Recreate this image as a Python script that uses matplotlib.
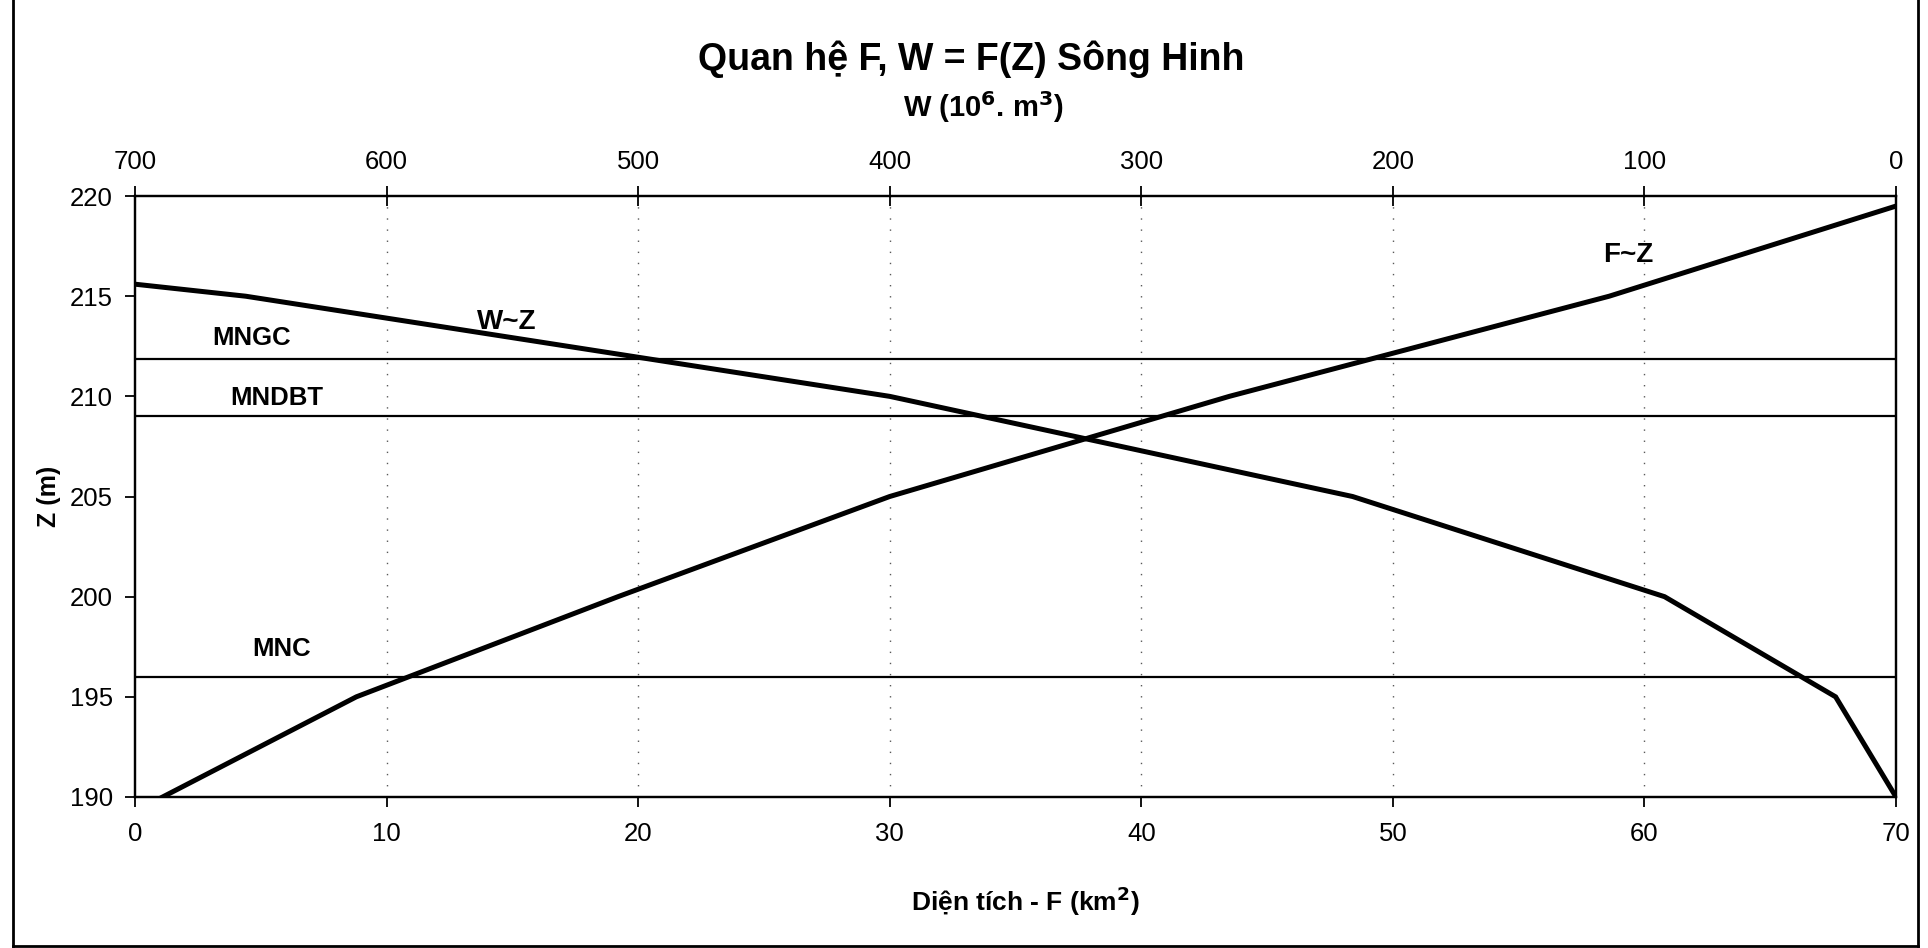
import matplotlib
matplotlib.use("Agg")
import matplotlib.pyplot as plt
from matplotlib.lines import Line2D

plt.rcParams["font.family"] = ["Liberation Sans", "DejaVu Sans"]
plt.rcParams["mathtext.default"] = "bf"

# F~Z : area (km2) vs water level (m)
f_area = [1.1, 8.8, 19.2, 30.0, 43.5, 58.6, 70.0]
z_f = [190, 195, 200, 205, 210, 215, 219.5]

# W~Z : volume (10^6 m3) vs water level (m)
w_vol = [0, 24, 92, 216, 400, 656, 700]
z_w = [190, 195, 200, 205, 210, 215, 215.6]

# characteristic levels
levels = {"MNGC": 211.85, "MNDBT": 209.0, "MNC": 196.0}
level_label_pos = {"MNGC": (4.64, 212.9), "MNDBT": (5.64, 209.9), "MNC": (5.83, 197.4)}

f_ticks = [0, 10, 20, 30, 40, 50, 60, 70]
w_ticks = [700, 600, 500, 400, 300, 200, 100, 0]
z_ticks = [190, 195, 200, 205, 210, 215, 220]

fig = plt.figure(figsize=(19.28, 9.48), dpi=100)
ax = fig.add_axes([0.0700, 0.1593, 0.9134, 0.6339])

# dotted vertical gridlines
for f in f_ticks[1:-1]:
    ax.axvline(f, color="0.35", lw=1.0, ls=(0, (1, 7)), zorder=1)

for name, z in levels.items():
    ax.axhline(z, color="black", lw=1.6, zorder=2)
    lx, ly = level_label_pos[name]
    ax.text(lx, ly, name, fontsize=18.5, fontweight="bold", ha="center", va="center")

ax.plot(f_area, z_f, color="black", lw=3.6, solid_joinstyle="miter", zorder=3)
ax.text(59.35, 217.05, "F~Z", fontsize=20, fontweight="bold", ha="center", va="center")
ax.text(14.78, 213.72, "W~Z", fontsize=20, fontweight="bold", ha="center", va="center")

ax.set_xlim(0, 70)
ax.set_ylim(190, 220)
ax.set_xticks(f_ticks)
ax.set_yticks(z_ticks)
ax.tick_params(axis="x", direction="out", length=7, width=1.3, labelsize=18.5, pad=11)
ax.tick_params(axis="y", direction="out", length=7, width=1.3, labelsize=18.5, pad=9)
ax.set_xlabel("Diện tích - F (km$^2$)", fontsize=19, fontweight="bold")
ax.xaxis.set_label_coords(0.5054, -0.145)
ax.set_ylabel("Z (m)", fontsize=18, fontweight="bold", labelpad=6)
for s in ax.spines.values():
    s.set_linewidth(1.6)

# top axis for volume, reversed
ax2 = ax.twiny()
ax2.set_xlim(700, 0)
ax2.plot(w_vol, z_w, color="black", lw=3.6, solid_joinstyle="miter", zorder=3)
ax2.set_xticks(w_ticks)
ax2.tick_params(axis="x", direction="inout", length=14, width=1.3, labelsize=18.5, pad=9)
for s in ax2.spines.values():
    s.set_linewidth(1.6)

fig.text(0.5036, 0.937, "Quan hệ F, W = F(Z) Sông Hinh", fontsize=27, fontweight="bold",
         ha="center", va="center")
fig.text(0.510, 0.887, "W (10$^6$. m$^3$)", fontsize=21, fontweight="bold",
         ha="center", va="center")

# outer chart frame
fig.add_artist(Line2D([13 / 1928, 13 / 1928], [0.002, 1.0], color="black", lw=2))
fig.add_artist(Line2D([1918 / 1928, 1918 / 1928], [0.002, 1.0], color="black", lw=2))
fig.add_artist(Line2D([13 / 1928, 1918 / 1928], [0.002, 0.002], color="black", lw=2))

fig.savefig("out.png", dpi=100)
